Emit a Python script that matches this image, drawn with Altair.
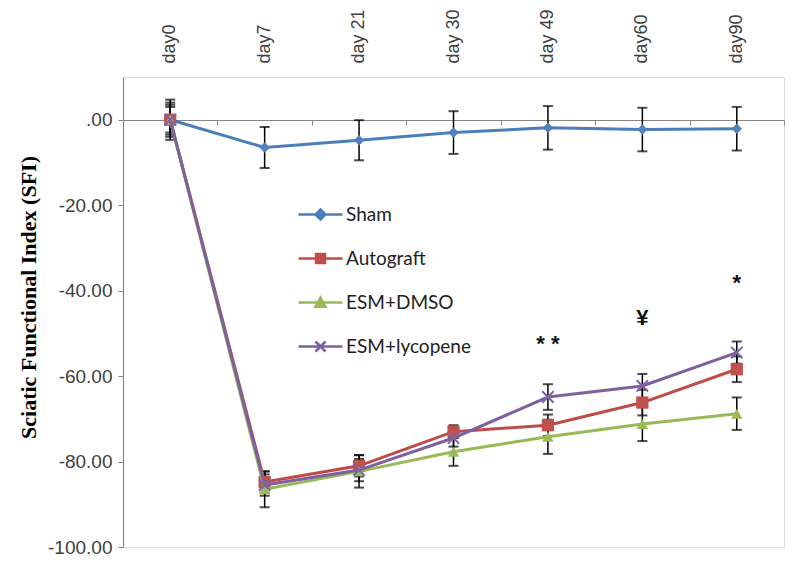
import altair as alt
import pandas as pd

days = ["day0", "day7", "day 21", "day 30", "day 49", "day60", "day90"]
groups = ["Sham", "Autograft", "ESM+DMSO", "ESM+lycopene"]

sham = [0, -6.5, -4.8, -3.0, -1.9, -2.3, -2.1]
autograft = [0, -84.8, -81.0, -73.0, -71.5, -66.2, -58.4]
esm_dmso = [0, -86.5, -82.3, -77.7, -74.2, -71.2, -68.8]
esm_lyco = [0, -85.5, -82.0, -74.5, -64.9, -62.3, -54.5]

sham_err = [4.7, 4.8, 4.7, 5.0, 5.1, 5.1, 5.1]
autograft_err = [4.0, 2.5, 2.5, 1.5, 2.5, 3.0, 3.0]
esm_dmso_err = [3.5, 4.2, 3.8, 3.3, 4.0, 4.0, 3.8]
esm_lyco_err = [3.0, 2.5, 2.6, 2.0, 3.0, 2.8, 2.6]

line_colors = ["#4A7EBB", "#BE4B48", "#98B954", "#7D60A0"]
marker_colors = ["#4F81BD", "#C0504D", "#9BBB59", "#8064A2"]

ann_days = ["day 49", "day60", "day90"]
ann_values = [-52.5, -46.4, -38.3]
ann_texts = ["* *", "¥", "*"]

series = [sham, autograft, esm_dmso, esm_lyco]
errors = [sham_err, autograft_err, esm_dmso_err, esm_lyco_err]
rows = []
for g, vals, errs in zip(groups, series, errors):
    for d, v, e in zip(days, vals, errs):
        rows.append({"group": g, "day": d, "value": v, "lo": v - e, "hi": v + e})
df = pd.DataFrame(rows)
ann = pd.DataFrame({"day": ann_days, "value": ann_values, "text": ann_texts})

W, H = 661, 470
YMIN, YMAX = -100, 10
zero_offset = -round(H * (0 - YMIN) / (YMAX - YMIN))

xscale = alt.Scale(type="band", domain=days, paddingInner=0, paddingOuter=0)
yscale = alt.Scale(domain=[YMIN, YMAX], nice=False, zero=False)


def xenc(axis=None):
    if axis is None:
        return alt.X("day:N", scale=xscale, bandPosition=0.5, axis=None)
    return alt.X("day:N", scale=xscale, bandPosition=0.5, axis=axis)


top_axis = alt.Axis(orient="top", title=None, domain=False, ticks=False,
                    labelAngle=270, labelPadding=14, labelFont="Liberation Sans",
                    labelFontSize=18, labelColor="#404040")
zero_axis = alt.Axis(orient="bottom", offset=zero_offset, title=None, labels=False,
                     domain=True, domainColor="#868686", domainWidth=1.2,
                     ticks=True, tickBand="extent", tickSize=5, tickColor="#868686")
y_axis = alt.Axis(orient="left", values=[0, -20, -40, -60, -80, -100], grid=False,
                  labelExpr="datum.value == 0 ? '.00' : '-' + format(abs(datum.value), '.2f')",
                  title="Sciatic Functional Index (SFI)", titleFont="Liberation Serif",
                  titleFontWeight="bold", titleFontSize=22, titleColor="#000000",
                  titlePadding=7, titleY=220, labelFont="Liberation Sans", labelFontSize=19,
                  labelColor="#404040", labelPadding=6, tickSize=5,
                  tickColor="#868686", domainColor="#868686", domainWidth=1.2)

layers = []

# y axis carrier (invisible)
layers.append(alt.Chart(df).mark_point(opacity=0).encode(
    x=xenc(), y=alt.Y("value:Q", scale=yscale, axis=y_axis, title="Sciatic Functional Index (SFI)")))

# error bars (with top label axis)
layers.append(alt.Chart(df).mark_rule(color="#000000", strokeWidth=1.5).encode(
    x=xenc(top_axis),
    y=alt.Y("lo:Q", scale=yscale, axis=None),
    y2="hi:Q",
))
for fld in ["lo", "hi"]:
    layers.append(alt.Chart(df).mark_tick(color="#000000", size=10, thickness=2).encode(
        x=xenc(), y=alt.Y(f"{fld}:Q", scale=yscale, axis=None)))

# baseline axis at zero
layers.append(alt.Chart(df).mark_line(opacity=0).encode(
    x=xenc(zero_axis), y=alt.Y("value:Q", scale=yscale, axis=None), detail="group:N"))

shapes = ["diamond", "square", "triangle-up", "M-1,-1L1,1M-1,1L1,-1"]
sizes = [110, 150, 130, 130]
for i, g in enumerate(groups):
    sub = alt.Chart(df).transform_filter(alt.datum.group == g)
    layers.append(sub.mark_line(color=line_colors[i], strokeWidth=3).encode(
        x=xenc(), y=alt.Y("value:Q", scale=yscale, axis=None)))
    if i == 3:
        pt = sub.mark_point(shape=shapes[i], filled=False, size=sizes[i],
                            color=marker_colors[i], strokeWidth=2, opacity=1)
    else:
        pt = sub.mark_point(shape=shapes[i], filled=True, size=sizes[i],
                            color=marker_colors[i], opacity=1)
    layers.append(pt.encode(x=xenc(), y=alt.Y("value:Q", scale=yscale, axis=None)))

legend_paths = [
    "M-2.2,0L2.2,0M0,-0.5L0.5,0L0,0.5L-0.5,0Z",
    "M-2.2,0L2.2,0M-0.45,-0.45L0.45,-0.45L0.45,0.45L-0.45,0.45Z",
    "M-2.2,0L2.2,0M0,-0.5L0.5,0.42L-0.5,0.42Z",
    "M-2.2,0L2.2,0M-0.5,-0.5L0.5,0.5M-0.5,0.5L0.5,-0.5",
]


def leg():
    return alt.Legend(title=None, orient="none", legendX=186, legendY=126,
                      symbolSize=400, labelOffset=14, rowPadding=22,
                      labelFont="Lato", labelFontSize=19, labelColor="#222222",
                      symbolStrokeWidth=2.5, symbolOpacity=1)


layers.append(alt.Chart(df).mark_point(filled=True, opacity=0, strokeWidth=2.5).encode(
    x=xenc(), y=alt.Y("value:Q", scale=yscale, axis=None),
    color=alt.Color("group:N", scale=alt.Scale(domain=groups, range=marker_colors), legend=leg()),
    stroke=alt.Stroke("group:N", scale=alt.Scale(domain=groups, range=line_colors), legend=leg()),
    shape=alt.Shape("group:N", scale=alt.Scale(domain=groups, range=legend_paths), legend=leg()),
))

layers.append(alt.Chart(ann).mark_text(font="Liberation Sans", fontSize=22, baseline="middle",
                                       fontWeight="bold", color="#111111").encode(
    x=xenc(), y=alt.Y("value:Q", scale=yscale, axis=None), text="text:N"))

chart = alt.layer(*layers).resolve_axis(x="independent", y="independent").properties(
    width=W, height=H,
    padding={"left": 9, "right": 0, "top": 0, "bottom": 2},
).configure_view(strokeWidth=0).configure(background="white")

chart.save("out.html", embed_options={"renderer": "svg", "actions": False})
